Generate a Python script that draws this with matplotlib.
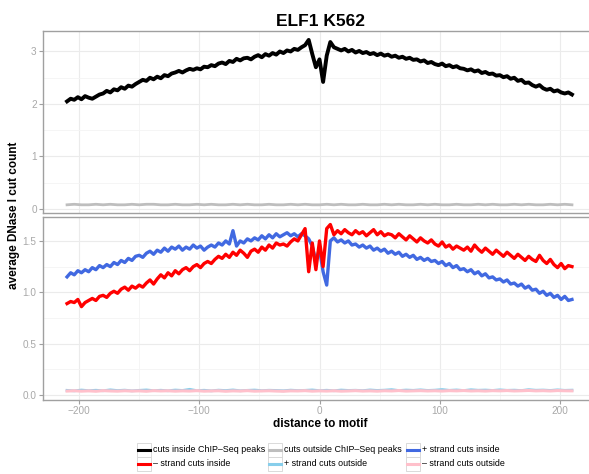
import numpy as np
import matplotlib
matplotlib.use("Agg")
import matplotlib.pyplot as plt
from matplotlib.lines import Line2D
from matplotlib.patches import Rectangle

plt.rcParams["font.family"] = ["Liberation Sans", "DejaVu Sans"]

# distance to motif (bp) for the inside-peak profiles, and a coarser grid for outside
pos_in = np.arange(-210, 211, 3)
pos_out = np.arange(-210, 211, 6)

cuts_inside = [
    2.05, 2.10, 2.08, 2.13, 2.09, 2.15, 2.12, 2.10, 2.14, 2.18,
    2.20, 2.25, 2.22, 2.28, 2.26, 2.32, 2.29, 2.35, 2.33, 2.38,
    2.42, 2.46, 2.44, 2.50, 2.47, 2.52, 2.49, 2.55, 2.53, 2.58,
    2.60, 2.63, 2.60, 2.64, 2.67, 2.65, 2.68, 2.66, 2.71, 2.70,
    2.74, 2.72, 2.77, 2.79, 2.76, 2.82, 2.80, 2.86, 2.83, 2.87,
    2.88, 2.85, 2.90, 2.93, 2.89, 2.95, 2.92, 2.97, 2.94, 3.00,
    2.97, 3.02, 3.00, 3.05, 3.03, 3.08, 3.12, 3.22, 2.95, 2.70,
    2.85, 2.42, 2.92, 3.18, 3.08, 3.05, 3.02, 3.05, 3.00, 3.03,
    2.98, 3.01, 2.97, 2.99, 2.95, 2.97, 2.93, 2.96, 2.92, 2.94,
    2.90, 2.92, 2.88, 2.90, 2.86, 2.88, 2.84, 2.85, 2.81, 2.83,
    2.78, 2.80, 2.76, 2.74, 2.77, 2.72, 2.74, 2.70, 2.72, 2.68,
    2.67, 2.64, 2.66, 2.62, 2.64, 2.59, 2.61, 2.57, 2.58, 2.54,
    2.55, 2.51, 2.53, 2.48, 2.50, 2.44, 2.46, 2.40, 2.41, 2.36,
    2.33, 2.36, 2.30, 2.27, 2.29, 2.24, 2.26, 2.22, 2.20, 2.22,
    2.18,
]

minus_inside = [
    0.89, 0.91, 0.90, 0.93, 0.86, 0.90, 0.92, 0.94, 0.92, 0.96,
    0.97, 0.95, 0.99, 1.01, 0.99, 1.03, 1.05, 1.02, 1.06, 1.04,
    1.07, 1.05, 1.09, 1.12, 1.08, 1.13, 1.17, 1.14, 1.19, 1.16,
    1.21, 1.18, 1.22, 1.24, 1.21, 1.25, 1.27, 1.24, 1.28, 1.30,
    1.28, 1.32, 1.35, 1.33, 1.37, 1.34, 1.39, 1.36, 1.41, 1.38,
    1.34, 1.40, 1.42, 1.39, 1.44, 1.41, 1.46, 1.43, 1.48, 1.46,
    1.47, 1.45, 1.49, 1.52, 1.50, 1.56, 1.62, 1.20, 1.48, 1.22,
    1.50, 1.25, 1.62, 1.66, 1.56, 1.60, 1.57, 1.61, 1.58, 1.56,
    1.60, 1.57, 1.59, 1.55, 1.58, 1.61, 1.56, 1.59, 1.55, 1.57,
    1.56, 1.53, 1.57, 1.54, 1.51, 1.55, 1.52, 1.49, 1.53, 1.50,
    1.48, 1.51, 1.47, 1.45, 1.49, 1.44, 1.46, 1.42, 1.45, 1.43,
    1.41, 1.44, 1.40, 1.46, 1.42, 1.39, 1.43, 1.40, 1.37, 1.41,
    1.38, 1.35, 1.39, 1.36, 1.33, 1.37, 1.34, 1.31, 1.35, 1.32,
    1.30, 1.36, 1.31, 1.28, 1.32, 1.27, 1.24, 1.28, 1.23, 1.26,
    1.25,
]

plus_inside = [
    1.15, 1.19, 1.17, 1.21, 1.19, 1.22, 1.20, 1.24, 1.22, 1.26,
    1.24, 1.27, 1.25, 1.29, 1.27, 1.31, 1.29, 1.33, 1.31, 1.35,
    1.36, 1.34, 1.38, 1.40, 1.37, 1.41, 1.39, 1.43, 1.40, 1.44,
    1.42, 1.45, 1.41, 1.44, 1.42, 1.46, 1.43, 1.45, 1.41, 1.44,
    1.46, 1.44, 1.48, 1.46, 1.50, 1.47, 1.60, 1.45, 1.50, 1.48,
    1.52, 1.50, 1.53, 1.51, 1.55, 1.52, 1.56, 1.53, 1.57, 1.54,
    1.56, 1.58, 1.55, 1.57, 1.54, 1.57, 1.55, 1.52, 1.45, 1.30,
    1.42, 1.20, 1.07, 1.50, 1.53, 1.49, 1.51, 1.48, 1.50, 1.46,
    1.47, 1.44, 1.46, 1.43, 1.45, 1.41, 1.43, 1.40, 1.42, 1.38,
    1.40, 1.37, 1.39, 1.35, 1.37, 1.34, 1.36, 1.32, 1.34, 1.31,
    1.33, 1.30, 1.31, 1.28, 1.30, 1.26, 1.28, 1.24, 1.26, 1.22,
    1.23, 1.20, 1.22, 1.18, 1.20, 1.16, 1.18, 1.14, 1.15, 1.12,
    1.13, 1.10, 1.12, 1.08, 1.09, 1.06, 1.08, 1.04, 1.06, 1.02,
    1.03, 0.99, 1.01, 0.97, 0.99, 0.95, 0.97, 0.93, 0.96, 0.92,
    0.93,
]

cuts_outside = [
    0.08, 0.09, 0.08, 0.08, 0.09, 0.08, 0.09, 0.08, 0.08, 0.09,
    0.08, 0.09, 0.09, 0.08, 0.08, 0.09, 0.08, 0.08, 0.09, 0.08,
    0.09, 0.08, 0.08, 0.09, 0.08, 0.09, 0.08, 0.08, 0.09, 0.08,
    0.08, 0.09, 0.08, 0.09, 0.08, 0.08, 0.09, 0.08, 0.09, 0.08,
    0.08, 0.09, 0.08, 0.08, 0.09, 0.08, 0.09, 0.08, 0.08, 0.09,
    0.08, 0.09, 0.08, 0.08, 0.09, 0.08, 0.08, 0.09, 0.08, 0.09,
    0.08, 0.08, 0.09, 0.08, 0.09, 0.08, 0.08, 0.09, 0.08, 0.09,
    0.08,
]

plus_outside = [
    0.045, 0.040, 0.048, 0.042, 0.046, 0.041, 0.050, 0.043, 0.047, 0.040,
    0.045, 0.049, 0.042, 0.046, 0.041, 0.048, 0.044, 0.055, 0.042, 0.046,
    0.040, 0.047, 0.043, 0.049, 0.041, 0.045, 0.048, 0.042, 0.046, 0.044,
    0.041, 0.047, 0.043, 0.045, 0.049, 0.042, 0.046, 0.041, 0.048, 0.044,
    0.046, 0.042, 0.049, 0.044, 0.047, 0.052, 0.043, 0.048, 0.045, 0.050,
    0.044, 0.047, 0.053, 0.045, 0.049, 0.043, 0.051, 0.046, 0.048, 0.044,
    0.050, 0.045, 0.047, 0.043, 0.052, 0.046, 0.048, 0.044, 0.050, 0.045,
    0.047,
]

minus_outside = [
    0.038, 0.041, 0.037, 0.040, 0.036, 0.042, 0.039, 0.037, 0.041, 0.038,
    0.040, 0.036, 0.042, 0.039, 0.041, 0.037, 0.040, 0.038, 0.042, 0.037,
    0.039, 0.041, 0.036, 0.040, 0.038, 0.042, 0.037, 0.039, 0.041, 0.038,
    0.036, 0.040, 0.039, 0.042, 0.037, 0.040, 0.038, 0.041, 0.037, 0.039,
    0.042, 0.038, 0.040, 0.037, 0.041, 0.039, 0.043, 0.038, 0.040, 0.042,
    0.039, 0.041, 0.038, 0.042, 0.040, 0.043, 0.039, 0.041, 0.038, 0.042,
    0.040, 0.043, 0.039, 0.041, 0.044, 0.040, 0.042, 0.039, 0.043, 0.041,
    0.040,
]

legend_labels = [
    "cuts inside ChIP\u2013Seq peaks", "cuts outside ChIP\u2013Seq peaks", "+ strand cuts inside",
    "\u2013 strand cuts inside", "+ strand cuts outside", "\u2013 strand cuts outside",
]
legend_colors = ["#000000", "#bebebe", "#4169e1", "#ff0000", "#87ceeb", "#ffc0cb"]

W, H = 589, 474
fig = plt.figure(figsize=(W / 100, H / 100), dpi=100)

def panel(top, bottom):
    # panel box in pixel coordinates -> figure fractions
    left, right = 43, 596
    return fig.add_axes([left / W, 1 - bottom / H, (right - left) / W, (bottom - top) / H])

ax_top = panel(31, 213)
ax_bot = panel(217, 400)

label_grey = "#a8a8a8"
for ax in (ax_top, ax_bot):
    ax.set_xlim(-230, 230)
    ax.set_xticks([-200, -100, 0, 100, 200])
    ax.set_xticks([-150, -50, 50, 150], minor=True)
    ax.grid(which="major", color="#ebebeb", lw=0.8)
    ax.grid(which="minor", color="#f4f4f4", lw=0.6)
    ax.set_axisbelow(True)
    for sp in ax.spines.values():
        sp.set_color("#a0a0a0")
        sp.set_linewidth(1.0)
    ax.tick_params(axis="both", which="major", colors="#a0a0a0", labelcolor=label_grey,
                   labelsize=7.2, length=3, width=0.8, pad=1.5)
    ax.tick_params(axis="both", which="minor", length=0)

# top facet: all cuts
ax_top.plot(pos_out, cuts_outside, color="#bebebe", lw=2.0, solid_joinstyle="round")
ax_top.plot(pos_in, cuts_inside, color="#000000", lw=2.8, solid_joinstyle="round")
ax_top.set_ylim(-0.076, 3.39)
ax_top.set_yticks([0, 1, 2, 3])
ax_top.set_yticks([0.5, 1.5, 2.5], minor=True)
ax_top.tick_params(axis="x", which="both", bottom=False, labelbottom=False)

# bottom facet: strand-specific cuts
ax_bot.plot(pos_in, plus_inside, color="#4169e1", lw=2.4, solid_joinstyle="round")
ax_bot.plot(pos_in, minus_inside, color="#ff0000", lw=2.4, solid_joinstyle="round")
ax_bot.plot(pos_out, plus_outside, color="#87ceeb", lw=2.0, solid_joinstyle="round")
ax_bot.plot(pos_out, minus_outside, color="#ffc0cb", lw=2.2, solid_joinstyle="round")
ax_bot.set_ylim(-0.049, 1.733)
ax_bot.set_yticks([0.0, 0.5, 1.0, 1.5])
ax_bot.set_yticklabels(["0.0", "0.5", "1.0", "1.5"])
ax_bot.set_yticks([0.25, 0.75, 1.25], minor=True)
ax_bot.set_xticklabels(["\u2212200", "\u2212100", "0", "100", "200"])

fig.text(320 / W, 1 - 21 / H, "ELF1 K562", ha="center", va="center",
         fontsize=12.5, fontweight="bold")
fig.text(320 / W, 1 - 424 / H, "distance to motif", ha="center", va="center",
         fontsize=8.5, fontweight="bold")
fig.text(14 / W, 1 - 215 / H, "average DNase I cut count", ha="center", va="center",
         rotation=90, fontsize=8.5, fontweight="bold")

# legend below the panels, three columns
col_x = [137, 268, 406]
row_y = [450, 464]
for i, (lab, col) in enumerate(zip(legend_labels, legend_colors)):
    x0, yc = col_x[i % 3], row_y[i // 3]
    fig.patches.append(Rectangle((x0 / W, 1 - (yc + 7) / H), 14 / W, 14 / H,
                                 transform=fig.transFigure, facecolor="white",
                                 edgecolor="#d4d4d4", lw=0.6))
    fig.lines.append(Line2D([(x0 + 1) / W, (x0 + 13) / W], [1 - yc / H, 1 - yc / H],
                            transform=fig.transFigure, color=col, lw=2.2))
    fig.text((x0 + 16) / W, 1 - yc / H, lab, ha="left", va="center", fontsize=6.4)

fig.savefig("out.png", dpi=100)
